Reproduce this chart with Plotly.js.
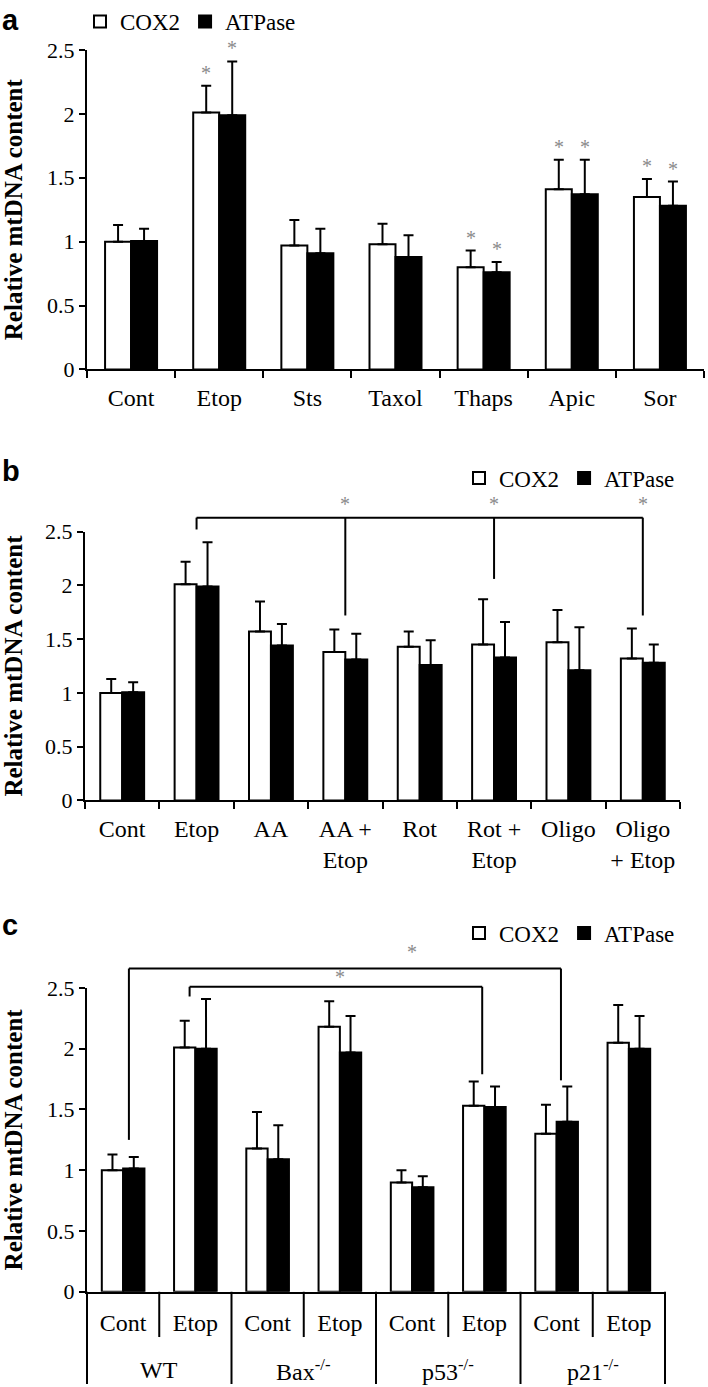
<!DOCTYPE html>
<html><head><meta charset="utf-8">
<script src="https://cdn.plot.ly/plotly-3.0.1.min.js"></script>
<style>html,body{margin:0;padding:0;background:#fff}</style>
</head><body><div id="chart" style="width:708px;height:1387px"></div>
<script>
// ---------- Panel a ----------
const catsA = ['Cont','Etop','Sts','Taxol','Thaps','Apic','Sor'];
const coxA = [1.00, 2.01, 0.97, 0.98, 0.80, 1.41, 1.35];
const coxErrA = [0.13, 0.21, 0.20, 0.16, 0.13, 0.23, 0.14];
const atpA = [1.005, 1.99, 0.91, 0.88, 0.76, 1.37, 1.28];
const atpErrA = [0.095, 0.42, 0.19, 0.17, 0.08, 0.27, 0.19];
const sigA = [0, 1, 0, 0, 1, 1, 1];

// ---------- Panel b ----------
const catsB = ['Cont','Etop','AA','AA +<br>Etop','Rot','Rot +<br>Etop','Oligo','Oligo<br>+ Etop'];
const coxB = [1.00, 2.01, 1.57, 1.38, 1.43, 1.45, 1.47, 1.32];
const coxErrB = [0.13, 0.21, 0.28, 0.21, 0.14, 0.42, 0.30, 0.28];
const atpB = [1.005, 1.99, 1.44, 1.31, 1.26, 1.33, 1.21, 1.28];
const atpErrB = [0.095, 0.41, 0.20, 0.24, 0.23, 0.33, 0.40, 0.17];
// bracket: reference category, compared categories, levels
const brB = {from: 1, to: [3, 5, 7], top: 2.63, fromEnd: 2.52, toEnd: [1.72, 2.06, 1.72], star: 2.76};

// ---------- Panel c ----------
const groupsC = ['WT', 'Bax<sup>-/-</sup>', 'p53<sup>-/-</sup>', 'p21<sup>-/-</sup>'];
const treatC = ['Cont', 'Etop'];
const coxC = [1.00, 2.01, 1.18, 2.18, 0.90, 1.53, 1.30, 2.05];
const coxErrC = [0.13, 0.22, 0.30, 0.21, 0.10, 0.20, 0.24, 0.31];
const atpC = [1.015, 2.00, 1.09, 1.97, 0.86, 1.52, 1.40, 2.00];
const atpErrC = [0.095, 0.41, 0.28, 0.30, 0.09, 0.17, 0.29, 0.27];
const brC = [
  {x0: 0.08, x1: 6.06, top: 2.66, end0: 1.25, end1: 1.74, starX: 4.0, star: 2.80},
  {x0: 0.92, x1: 4.97, top: 2.51, end0: 2.43, end1: 1.79, starX: 3.0, star: 2.59}
];

const legendNames = ['COX2', 'ATPase'];

// ---------- geometry ----------
const W = 708, H = 1387, YMAX = 2.5;
const domX = {a: [87/W, 704/W], b: [85/W, 680/W], c: [87/W, 665/W]};
const domY = {a: [1-368.7/H, 1-49/H], b: [1-800/H, 1-531/H], c: [1-1291.7/H, 1-987.7/H]};
const BARGAP = 0.41;
const OFF = (1 - BARGAP) / 4;
function py(p, v) { const d = domY[p]; return d[0] + (v / YMAX) * (d[1] - d[0]); }
function pxY(px) { return 1 - px / H; }
function dx(n, i) { return (i + 0.5) / n; }

const SERIF = 'Liberation Serif, Times New Roman, serif';
const SANS = 'Liberation Sans, Arial, sans-serif';
const zeros = n => new Array(n).fill(0);

function bars(name, x, y, err, fill, xa, ya, leg) {
  return {
    type: 'bar', name: name, x: x, y: y, xaxis: xa, yaxis: ya, legend: leg,
    marker: {color: fill, line: {color: '#000', width: 2}},
    error_y: {type: 'data', symmetric: false, array: err, arrayminus: zeros(y.length),
              color: '#000', thickness: 2, width: 5},
    hoverinfo: 'skip'
  };
}
const idxC = [0,1,2,3,4,5,6,7];
const data = [
  bars(legendNames[0], catsA, coxA, coxErrA, '#fff', 'x', 'y', 'legend'),
  bars(legendNames[1], catsA, atpA, atpErrA, '#000', 'x', 'y', 'legend'),
  bars(legendNames[0], catsB, coxB, coxErrB, '#fff', 'x2', 'y2', 'legend2'),
  bars(legendNames[1], catsB, atpB, atpErrB, '#000', 'x2', 'y2', 'legend2'),
  bars(legendNames[0], idxC, coxC, coxErrC, '#fff', 'x3', 'y3', 'legend3'),
  bars(legendNames[1], idxC, atpC, atpErrC, '#000', 'x3', 'y3', 'legend3')
];

const tickFont = {family: SERIF, size: 22, color: '#000'};
const catFont = {family: SERIF, size: 24, color: '#000'};
function yax(p) {
  return {
    domain: domY[p], anchor: p === 'a' ? 'x' : (p === 'b' ? 'x2' : 'x3'),
    range: [0, YMAX], dtick: 0.5, tick0: 0, showgrid: false, zeroline: false,
    showline: true, linecolor: '#000', linewidth: 2, ticks: 'outside', ticklen: 6,
    tickwidth: 2, tickcolor: '#000', tickfont: tickFont, automargin: false,
    title: {text: '<b>Relative mtDNA content</b>', font: {family: SERIF, size: 25, color: '#000'}, standoff: 21}
  };
}
function xaxCat(p, n, ya) {
  return {
    domain: domX[p], anchor: ya, type: 'category', range: [-0.5, n - 0.5],
    showgrid: false, zeroline: false, showline: true, linecolor: '#000', linewidth: 2,
    ticks: 'outside', tickson: 'boundaries', ticklen: 7, tickwidth: 2, tickcolor: '#000',
    tickfont: catFont, tickangle: 0, automargin: false, ticklabelstandoff: 6
  };
}

const legendCommon = {orientation: 'h', font: {family: SERIF, size: 23, color: '#000'},
                      itemwidth: 30, bgcolor: 'rgba(0,0,0,0)', yanchor: 'middle'};
const layout = {
  width: W, height: H, margin: {l: 0, r: 0, t: 0, b: 0},
  paper_bgcolor: '#fff', plot_bgcolor: 'rgba(0,0,0,0)',
  barmode: 'group', bargap: BARGAP, bargroupgap: 0,
  font: {family: SERIF, color: '#000'},
  xaxis: xaxCat('a', catsA.length, 'y'),
  yaxis: yax('a'),
  xaxis2: xaxCat('b', catsB.length, 'y2'),
  yaxis2: yax('b'),
  xaxis3: {
    domain: domX.c, anchor: 'y3', range: [-0.5, 7.5], tickvals: idxC,
    ticktext: idxC.map(i => treatC[i % 2]), showgrid: false, zeroline: false,
    showline: true, linecolor: '#000', linewidth: 2, ticks: '', tickfont: catFont,
    tickangle: 0, automargin: false, ticklabelstandoff: 8
  },
  yaxis3: yax('c'),
  legend: Object.assign({}, legendCommon, {x: 80/W, xanchor: 'left', y: pxY(21)}),
  legend2: Object.assign({}, legendCommon, {x: 680/W, xanchor: 'right', y: pxY(478)}),
  legend3: Object.assign({}, legendCommon, {x: 680/W, xanchor: 'right', y: pxY(933)}),
  shapes: [],
  annotations: []
};

const starFont = {family: SERIF, size: 20, color: '#8a8a8a'};
// panel a asterisks
sigA.forEach((s, i) => {
  if (!s) return;
  layout.annotations.push({xref: 'x', yref: 'y', x: i - OFF, y: coxA[i] + coxErrA[i], text: '*',
    showarrow: false, yanchor: 'bottom', font: starFont});
  layout.annotations.push({xref: 'x', yref: 'y', x: i + OFF, y: atpA[i] + atpErrA[i], text: '*',
    showarrow: false, yanchor: 'bottom', font: starFont});
});

const lineStyle = {color: '#000', width: 2};
function vline(xa, n, i, y0, y1) {
  return {type: 'line', xref: xa + ' domain', yref: 'paper', x0: dx(n, i), x1: dx(n, i), y0: y0, y1: y1, line: lineStyle};
}
function hline(xa, n, i0, i1, y) {
  return {type: 'line', xref: xa + ' domain', yref: 'paper', x0: dx(n, i0), x1: dx(n, i1), y0: y, y1: y, line: lineStyle};
}
// panel b bracket
const nB = catsB.length;
layout.shapes.push(hline('x2', nB, brB.from, brB.to[brB.to.length - 1], py('b', brB.top)));
layout.shapes.push(vline('x2', nB, brB.from, py('b', brB.top), py('b', brB.fromEnd)));
brB.to.forEach((t, k) => {
  layout.shapes.push(vline('x2', nB, t, py('b', brB.top), py('b', brB.toEnd[k])));
  layout.annotations.push({xref: 'x2', yref: 'paper', x: t, y: py('b', brB.star), text: '*',
    showarrow: false, yanchor: 'middle', font: starFont});
});
// panel c brackets
brC.forEach(b => {
  layout.shapes.push(hline('x3', 8, b.x0, b.x1, py('c', b.top)));
  layout.shapes.push(vline('x3', 8, b.x0, py('c', b.top), py('c', b.end0)));
  layout.shapes.push(vline('x3', 8, b.x1, py('c', b.top), py('c', b.end1)));
  layout.annotations.push({xref: 'x3', yref: 'paper', x: b.starX, y: py('c', b.star), text: '*',
    showarrow: false, yanchor: 'middle', font: starFont});
});
// panel c dividers and group labels
const axisC = domY.c[0];
groupsC.forEach((g, k) => {
  layout.shapes.push({type: 'line', xref: 'x3 domain', yref: 'paper', x0: (2*k+1)/8, x1: (2*k+1)/8,
    y0: axisC, y1: pxY(1337), line: lineStyle});
  layout.annotations.push({xref: 'x3', yref: 'paper', x: 2*k + 0.5, y: pxY(1370), text: g,
    showarrow: false, yanchor: 'middle', font: catFont});
});
for (let k = 0; k <= groupsC.length; k++) {
  layout.shapes.push({type: 'line', xref: 'x3 domain', yref: 'paper', x0: (2*k)/8, x1: (2*k)/8,
    y0: axisC, y1: pxY(1384), line: lineStyle});
}
// panel letters
[['a', 1], ['b', 452], ['c', 907]].forEach(([t, top]) => {
  layout.annotations.push({xref: 'paper', yref: 'paper', x: 0, y: pxY(top), xanchor: 'left', yanchor: 'top',
    text: '<b>' + t + '</b>', showarrow: false, font: {family: SANS, size: 29, color: '#000'}});
});

Plotly.newPlot('chart', data, layout, {staticPlot: true, displayModeBar: false});
</script>
</body></html>
